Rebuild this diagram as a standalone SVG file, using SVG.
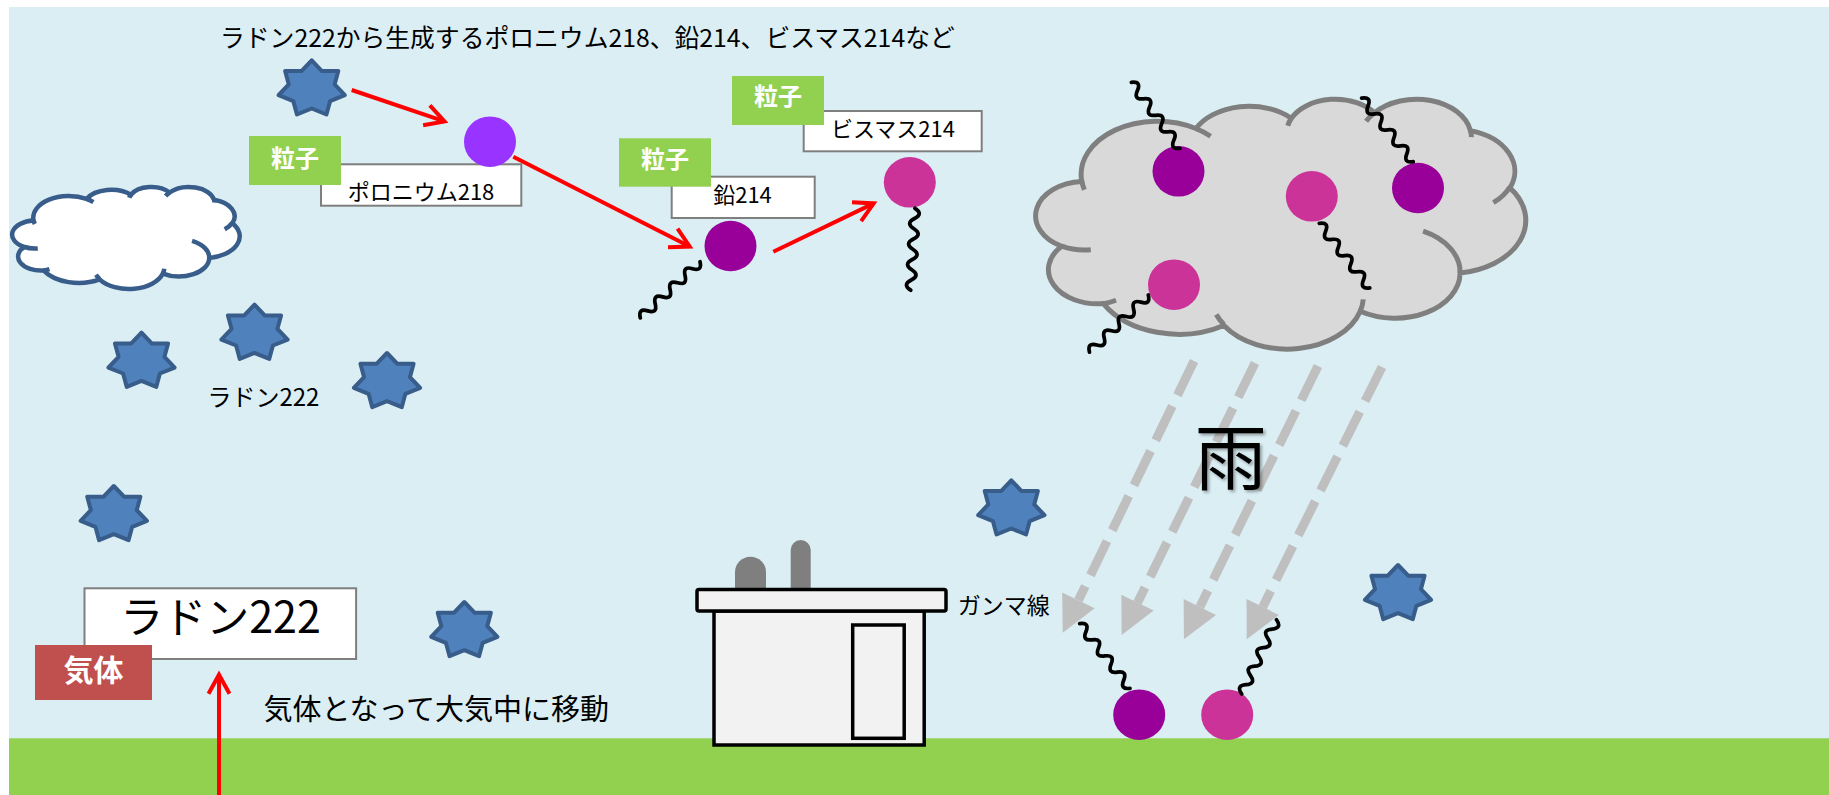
<svg xmlns="http://www.w3.org/2000/svg" width="1829" height="795" viewBox="0 0 1829 795">
  <style>
    .jp { font-family: 'Noto Sans CJK JP', 'Noto Sans', sans-serif; fill: #000; }
    .tag { font-family: 'Noto Sans CJK JP', 'Noto Sans', sans-serif; font-weight: bold; fill: #FFFFFF; }
    .star { fill: #4F81BD; stroke: #385D8A; stroke-width: 4; stroke-linejoin: round; }
    .box { fill: #FFFFFF; stroke: #7F7F7F; stroke-width: 2; }
    .green { fill: #92D050; }
    .po { fill: #9933FF; }
    .pb { fill: #990099; }
    .bi { fill: #CC3399; }
    .wave { fill: none; stroke: #000; stroke-width: 3.75; stroke-linecap: round; }
    .red { fill: none; stroke: #FF0000; stroke-width: 4; }
    .rain { fill: none; stroke: #BFBFBF; stroke-width: 9; stroke-dasharray: 38 12; }
    .house { fill: #F2F2F2; stroke: #000; stroke-width: 3.5; }
    .cloud-white { fill: #FFFFFF; stroke: #385D8A; stroke-width: 4.5; }
    .cloud-grey { fill: #D9D9D9; stroke: #7F7F7F; stroke-width: 5; }
    .cloud-line { fill: none; }
  </style>
  <defs>
    <!-- seven-pointed star, centred on 0,0 -->
    <path id="star7" d="M0,-28.5 L10.21,-17.77 L26.58,-17.77 L22.94,-4.39 L33.15,6.34 L18.4,12.3 L14.75,25.68 L0,19.72 L-14.75,25.68 L-18.4,12.3 L-33.15,6.34 L-22.94,-4.39 L-26.58,-17.77 L-10.21,-17.77 Z"/>
    <!-- gamma ray squiggle, 82 px long along +x -->
    <path id="wave" class="wave" d="M0,0 q5.125,-9 10.25,0 t10.25,0 t10.25,0 t10.25,0 t10.25,0 t10.25,0 t10.25,0 t10.25,0"/>
    <marker id="redHead" markerUnits="userSpaceOnUse" orient="auto" viewBox="-25 -15 30 30" markerWidth="30" markerHeight="30" refX="0" refY="0" overflow="visible">
      <path d="M-19,-10.5 L0,0 L-19,10.5" fill="none" stroke="#FF0000" stroke-width="4"/>
    </marker>
    <marker id="rainHead" markerUnits="userSpaceOnUse" orient="auto" viewBox="0 -18 36 36" markerWidth="36" markerHeight="36" refX="0" refY="0" overflow="visible">
      <path d="M0,-18 L36,0 L0,18 Z" fill="#BFBFBF"/>
    </marker>
    <filter id="softShadow" x="-20%" y="-20%" width="140%" height="140%">
      <feDropShadow dx="2" dy="2" stdDeviation="1.5" flood-color="#000" flood-opacity="0.35"/>
    </filter>
  </defs>

  <!-- page, sky and ground -->
  <rect x="0" y="0" width="1829" height="795" fill="#FFFFFF"/>
  <rect id="sky" x="9" y="7" width="1820" height="733" fill="#DAEEF3"/>
  <rect id="ground" x="9" y="738.3" width="1820" height="57" fill="#92D050"/>

  <!-- small white cloud (cloud outline drawn on a 432 x 432 grid, stroke kept at screen width) -->
  <g id="cloud-white">
    <g transform="translate(13.16,186.67) scale(0.5242,0.236)">
      <path class="cloud-white" vector-effect="non-scaling-stroke" d="M39,143.7 A67.53,91.9 0 0 1 140.06,52.03 A53.33,72.67 0 0 1 224.57,34.31 A43.65,59.45 0 0 1 298.34,24.78 A48.57,65.95 0 0 1 383.19,55.74 A53.33,72.73 0 0 1 418.19,154.58 A67.75,92.2 0 0 1 374.06,302.02 A57.85,78.67 0 0 1 285.58,368.13 A67.52,92.15 0 0 1 164.83,392.67 A77.2,105.43 0 0 1 58.08,354.77 A43.6,59.18 0 0 1 21.16,255.57 A43.45,59.45 0 0 1 39,143.7 Z"/>
      <path class="cloud-white cloud-line" vector-effect="non-scaling-stroke" d="M46.93,261.77 A43.45,59.45 0 0 1 21.16,255.57 M69.28,348.99 A43.6,59.18 0 0 1 58.08,354.77 M164.78,390.9 A67.52,92.15 0 0 1 158.09,373.47 M288.27,347.51 A67.52,92.15 0 0 1 285.58,368.13 M341.29,229.54 A57.85,78.67 0 0 1 374.06,302.02 M417.98,153.54 A53.33,72.73 0 0 1 403.48,180.32 M383.24,54.26 A48.57,65.95 0 0 1 384,66.89 M290.78,39.52 A48.57,65.95 0 0 1 298.34,24.78 M221.41,47.2 A43.65,59.45 0 0 1 224.57,34.31 M140.06,52.03 A67.53,91.9 0 0 1 153.05,65.51 M41.27,157.89 A67.53,91.9 0 0 1 39,143.7"/>
    </g>
  </g>

  <!-- radon atoms -->
  <g id="radon-top"><use href="#star7" class="star" transform="translate(311.7,88.8)"/></g>
  <g id="radon-a"><use href="#star7" class="star" transform="translate(141.5,361.2)"/></g>
  <g id="radon-b"><use href="#star7" class="star" transform="translate(254.5,333.2)"/></g>
  <g id="radon-c"><use href="#star7" class="star" transform="translate(387,381.5)"/></g>
  <g id="radon-d"><use href="#star7" class="star" transform="translate(113.8,514.5)"/></g>
  <g id="radon-e"><use href="#star7" class="star" transform="translate(464.3,630.5)"/></g>
  <g id="radon-f"><use href="#star7" class="star" transform="translate(1011.3,508.8)"/></g>
  <g id="radon-g"><use href="#star7" class="star" transform="translate(1398,593.5)"/></g>

  <!-- rain cloud carrying particles -->
  <g id="cloud-rain">
    <g transform="translate(1037.8,98.4) scale(1.129,0.5784)">
      <path class="cloud-grey" vector-effect="non-scaling-stroke" d="M39,143.7 A67.53,91.9 0 0 1 140.06,52.03 A53.33,72.67 0 0 1 224.57,34.31 A43.65,59.45 0 0 1 298.34,24.78 A48.57,65.95 0 0 1 383.19,55.74 A53.33,72.73 0 0 1 418.19,154.58 A67.75,92.2 0 0 1 374.06,302.02 A57.85,78.67 0 0 1 285.58,368.13 A67.52,92.15 0 0 1 164.83,392.67 A77.2,105.43 0 0 1 58.08,354.77 A43.6,59.18 0 0 1 21.16,255.57 A43.45,59.45 0 0 1 39,143.7 Z"/>
      <path class="cloud-grey cloud-line" vector-effect="non-scaling-stroke" d="M46.93,261.77 A43.45,59.45 0 0 1 21.16,255.57 M69.28,348.99 A43.6,59.18 0 0 1 58.08,354.77 M164.78,390.9 A67.52,92.15 0 0 1 158.09,373.47 M288.27,347.51 A67.52,92.15 0 0 1 285.58,368.13 M341.29,229.54 A57.85,78.67 0 0 1 374.06,302.02 M417.98,153.54 A53.33,72.73 0 0 1 403.48,180.32 M383.24,54.26 A48.57,65.95 0 0 1 384,66.89 M290.78,39.52 A48.57,65.95 0 0 1 298.34,24.78 M221.41,47.2 A43.65,59.45 0 0 1 224.57,34.31 M140.06,52.03 A67.53,91.9 0 0 1 153.05,65.51 M41.27,157.89 A67.53,91.9 0 0 1 39,143.7"/>
    </g>
    <ellipse class="pb" cx="1178.5" cy="171.3" rx="26" ry="25.3"/>
    <ellipse class="bi" cx="1311.8" cy="196.3" rx="26" ry="25.3"/>
    <ellipse class="pb" cx="1418" cy="188" rx="26" ry="25.3"/>
    <ellipse class="bi" cx="1174" cy="284.7" rx="26" ry="25.3"/>
  </g>

  <!-- house -->
  <g id="house">
    <path d="M735,590 V572.2 A15.5,15.5 0 0 1 766,572.2 V590 Z" fill="#7F7F7F"/>
    <path d="M790.7,590 V550 A10,10 0 0 1 810.7,550 V590 Z" fill="#7F7F7F"/>
    <rect class="house" x="714" y="611" width="210.2" height="134"/>
    <rect class="house" x="697" y="589.5" width="249" height="21.5" rx="2"/>
    <rect class="house" x="852.7" y="625" width="51.5" height="113.3"/>
  </g>

  <!-- falling rain -->
  <g id="rain">
    <line class="rain" x1="1194" y1="361" x2="1078.4" y2="600.3" marker-end="url(#rainHead)"/>
    <line class="rain" x1="1255" y1="363" x2="1137.5" y2="602.7" marker-end="url(#rainHead)"/>
    <line class="rain" x1="1318" y1="366" x2="1199.8" y2="607" marker-end="url(#rainHead)"/>
    <line class="rain" x1="1382" y1="367" x2="1262.7" y2="607" marker-end="url(#rainHead)"/>
  </g>
  <g id="rain-label">
    <text class="jp" x="1230.7" y="484" font-size="72" text-anchor="middle" filter="url(#softShadow)">雨</text>
  </g>

  <!-- caption -->
  <g id="caption-top">
    <text class="jp" x="220" y="46.5" font-size="24.8">ラドン222から生成するポロニウム218、鉛214、ビスマス214など</text>
  </g>

  <!-- polonium 218 -->
  <g id="polonium">
    <rect class="box" x="321" y="164.3" width="200.3" height="41.4"/>
    <text class="jp" x="421" y="200" font-size="22" text-anchor="middle">ポロニウム218</text>
    <rect class="green" x="249" y="136" width="92" height="49"/>
    <text class="tag" x="295" y="166.5" font-size="24" text-anchor="middle">粒子</text>
    <ellipse class="po" cx="490" cy="141.7" rx="26" ry="25.3"/>
  </g>

  <!-- lead 214 -->
  <g id="lead">
    <rect class="box" x="671.7" y="176.7" width="143" height="41.3"/>
    <text class="jp" x="742.5" y="202.5" font-size="22" text-anchor="middle">鉛214</text>
    <rect class="green" x="619" y="138.3" width="92" height="48.4"/>
    <text class="tag" x="665" y="168.3" font-size="24" text-anchor="middle">粒子</text>
    <ellipse class="pb" cx="730.5" cy="246" rx="26" ry="25.3"/>
  </g>

  <!-- bismuth 214 -->
  <g id="bismuth">
    <rect class="box" x="803.7" y="111" width="178" height="40.3"/>
    <text class="jp" x="893" y="137.3" font-size="22" text-anchor="middle">ビスマス214</text>
    <rect class="green" x="732" y="76" width="92" height="49"/>
    <text class="tag" x="778" y="105" font-size="24" text-anchor="middle">粒子</text>
    <ellipse class="bi" cx="909.8" cy="182.3" rx="26" ry="25.3"/>
  </g>

  <!-- radon 222 labels -->
  <g id="radon-label">
    <text class="jp" x="263.4" y="406" font-size="24" text-anchor="middle">ラドン222</text>
  </g>
  <g id="radon-gas">
    <rect class="box" x="84.5" y="588.3" width="271.6" height="70.7"/>
    <text class="jp" x="220.5" y="633.3" font-size="43" text-anchor="middle">ラドン222</text>
    <rect x="35" y="645" width="117" height="55" fill="#C0504D"/>
    <text class="tag" x="93.5" y="681" font-size="30" text-anchor="middle">気体</text>
  </g>
  <g id="move-label">
    <text class="jp" x="263.4" y="719.7" font-size="29">気体となって大気中に移動</text>
  </g>

  <!-- particles on the ground -->
  <g id="ground-pb"><ellipse class="pb" cx="1139.2" cy="714.7" rx="26" ry="25.3"/></g>
  <g id="ground-bi"><ellipse class="bi" cx="1227.2" cy="714.7" rx="26" ry="25.3"/></g>
  <g id="gamma-label">
    <text class="jp" x="957.7" y="613.5" font-size="23">ガンマ線</text>
  </g>

  <!-- gamma rays -->
  <g id="gamma-rays">
    <use href="#wave" transform="translate(700,261.7) rotate(136.7)"/>
    <use href="#wave" transform="translate(915,208.3) rotate(93)"/>
    <use href="#wave" transform="translate(1180,148.3) rotate(-126.4)"/>
    <use href="#wave" transform="translate(1413.3,161.7) rotate(-129.1)"/>
    <use href="#wave" transform="translate(1319.3,223.3) rotate(52)"/>
    <use href="#wave" transform="translate(1148.3,295) rotate(135.8)"/>
    <use href="#wave" transform="translate(1130,688.3) rotate(-127.9)"/>
    <use href="#wave" transform="translate(1241.7,694) rotate(-64.9)"/>
  </g>

  <!-- decay chain and upward movement -->
  <g id="connectors">
    <line class="red" x1="351.7" y1="90" x2="444.5" y2="121.4" marker-end="url(#redHead)"/>
    <line class="red" x1="513.3" y1="156.7" x2="689.7" y2="246.5" marker-end="url(#redHead)"/>
    <line class="red" x1="773.3" y1="251.7" x2="873.7" y2="203.4" marker-end="url(#redHead)"/>
    <line class="red" x1="219" y1="795" x2="219" y2="674.7" marker-end="url(#redHead)"/>
  </g>
</svg>
